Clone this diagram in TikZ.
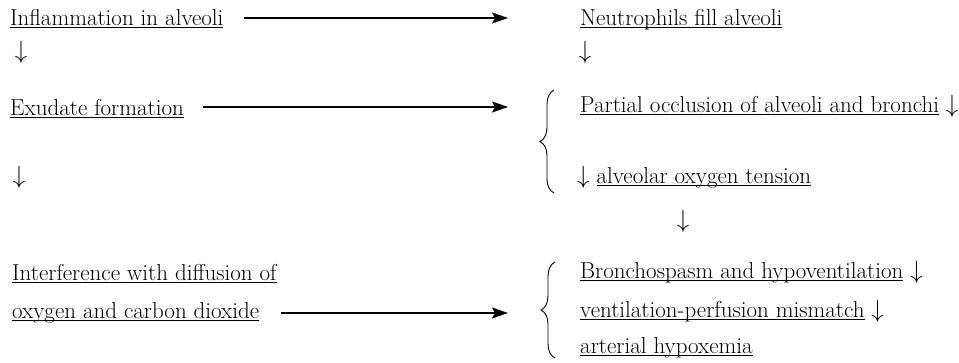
\documentclass[tikz,border=0pt]{standalone}
\usetikzlibrary{arrows.meta, positioning, decorations.pathreplacing}
% underline sitting just under the baseline, through the descenders
\newcommand{\uln}[1]{\setbox0\hbox{#1}\rlap{\rule[-3pt]{\wd0}{0.9pt}}\box0\relax}
\tikzset{
  txt/.style={anchor=base west, inner sep=0pt, font=\fontsize{23}{27}\selectfont},
  dn/.style={anchor=base, inner sep=0pt, font=\fontsize{25}{30}\selectfont},
  arr/.style={-{Stealth[length=16pt, width=11pt, inset=3pt]}, line width=1.4pt},
  brc/.style={decorate, decoration={brace, amplitude=14pt}, line width=0.9pt},
}

\begin{document}
\begin{tikzpicture}[x=1pt, y=-1pt]
    \useasboundingbox (0,0) rectangle (959,362);

    % left column
    \node[txt] (inflam) at (10,25) {\uln{Inflammation in alveoli}};
    \node[dn] (dA) at (21,58) {$\downarrow$};
    \node[txt] (exud) at (10,115) {\uln{Exudate formation}};
    \node[dn] (dB) at (19,183) {$\downarrow$};
    \node[txt] (interf) at (12,280) {\uln{Interference with diffusion of}};
    \node[txt] (oxy) at (12,318) {\uln{oxygen and carbon dioxide}};

    % right column
    \node[txt] (neutro) at (580,25) {\uln{Neutrophils fill alveoli}};
    \node[dn] (dC) at (585,58) {$\downarrow$};
    \node[txt] (occl) at (580,112) {\uln{Partial occlusion of alveoli and bronchi} $\downarrow$};
    \node[txt] (tens) at (577,183) {$\downarrow$ \uln{alveolar oxygen tension}};
    \node[dn] (dD) at (683,227) {$\downarrow$};
    \node[txt] (broncho) at (580,278) {\uln{Bronchospasm and hypoventilation} $\downarrow$};
    \node[txt] (vq) at (580,317) {\uln{ventilation-perfusion mismatch} $\downarrow$};
    \node[txt] (hypox) at (580,353) {\uln{arterial hypoxemia}};

    % braces
    \draw[brc] (554,193) -- (554,90);
    \draw[brc] (555,358) -- (555,262);

    % horizontal arrows
    \coordinate (tipA) at (508,18);
    \coordinate (tipB) at (508,107);
    \coordinate (tipC) at (508,313);
    \draw[arr] ([xshift=20pt]tipA -| inflam.east) -- (tipA);
    \draw[arr] ([xshift=19pt]tipB -| exud.east) -- (tipB);
    \draw[arr] ([xshift=22pt]tipC -| oxy.east) -- (tipC);
  \end{tikzpicture}
\end{document}
